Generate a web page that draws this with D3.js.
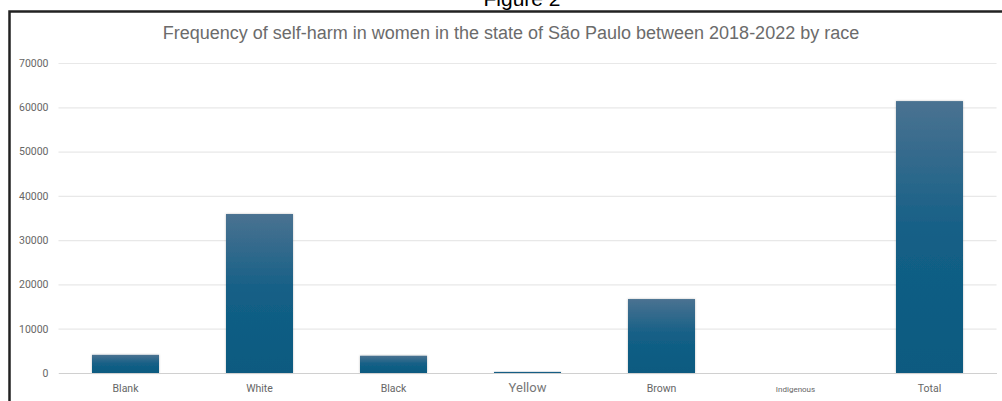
<!DOCTYPE html>
<html><head><meta charset="utf-8">
<script src="https://cdn.jsdelivr.net/npm/d3@7"></script>
<style>html,body{margin:0;padding:0;background:#fff;overflow:hidden}</style>
</head><body>
<svg id="c" width="1002" height="401"></svg>
<script>
const categories = ["Blank","White","Black","Yellow","Brown","Indigenous","Total"];
const values = [4100, 35900, 3900, 250, 16700, 0, 61400];
const yTicks = [0,10000,20000,30000,40000,50000,60000,70000];
const labelSizes = [10.5,10.5,10.5,13,10.5,8,10.5];
const title = "Frequency of self-harm in women in the state of São Paulo between 2018-2022 by race";

const svg = d3.select("#c");
const W = 1002, H = 401;
const margin = {left:58.5, right:5.5, top:63, bottom:28};

// figure caption + frame
svg.append("text").attr("x",522).attr("y",6).attr("text-anchor","middle")
  .attr("font-family","'Liberation Sans', Arial, sans-serif").attr("font-size",21).attr("fill","#000").text("Figure 2");
svg.append("path").attr("d",`M9.5,${H+5} V11.5 H${W+5}`).attr("fill","none").attr("stroke","#222").attr("stroke-width",2.5);

const x = d3.scaleBand().domain(categories).range([margin.left, W-margin.right]).paddingInner(0.5).paddingOuter(0.25);
const y = d3.scaleLinear().domain([0,70000]).range([373,63]);

const defs = svg.append("defs");
const grad = defs.append("linearGradient").attr("id","bg").attr("x1",0).attr("y1",0).attr("x2",0).attr("y2",1);
grad.append("stop").attr("offset","0%").attr("stop-color","#4a7291");
grad.append("stop").attr("offset","50%").attr("stop-color","#135f86");
grad.append("stop").attr("offset","100%").attr("stop-color","#0b5a80");
const f = defs.append("filter").attr("id","sh").attr("x","-10%").attr("y","-10%").attr("width","120%").attr("height","120%");
f.append("feDropShadow").attr("dx",0).attr("dy",0).attr("stdDeviation",1).attr("flood-color","#000").attr("flood-opacity",0.25);

svg.append("text").attr("x",511).attr("y",39).attr("text-anchor","middle")
  .attr("font-family","'Liberation Sans', Arial, sans-serif").attr("font-size",18).attr("fill","#6b6b6b").text(title);

// grid + y axis
const yAxis = d3.axisLeft(y).tickValues(yTicks).tickSize(-(W-margin.right-margin.left)).tickPadding(10).tickFormat(d3.format("d"));
const gy = svg.append("g").attr("transform",`translate(${margin.left},0)`).call(yAxis);
gy.select(".domain").remove();
gy.selectAll(".tick line").attr("stroke","#e8e8e8").attr("stroke-width",1.2);
gy.selectAll(".tick text").attr("font-family","Roboto, 'Liberation Sans', sans-serif").attr("font-size",10.5).attr("fill","#666");

// bars
svg.append("g").selectAll("rect").data(categories.filter((d,i)=>values[i]>0)).join("rect")
  .attr("x",d=>x(d)).attr("width",x.bandwidth())
  .attr("y",d=>y(values[categories.indexOf(d)])).attr("height",d=>y(0)-y(values[categories.indexOf(d)]))
  .attr("fill","url(#bg)").attr("filter","url(#sh)");

// x axis
const xAxis = d3.axisBottom(x).tickSize(0).tickPadding(11);
const gx = svg.append("g").attr("transform",`translate(0,${y(0)})`).call(xAxis);
gx.select(".domain").attr("stroke","#d0d0d0").attr("stroke-width",1.2);
gx.selectAll(".tick text").attr("font-family","Roboto, 'Liberation Sans', sans-serif")
  .attr("font-size",(d,i)=>labelSizes[i]).attr("fill",(d,i)=>i===3?"#777":"#666")
  .attr("dy",(d,i)=>i===3?"0.6em":i===5?"1.0em":"0.75em");
</script>
</body></html>
